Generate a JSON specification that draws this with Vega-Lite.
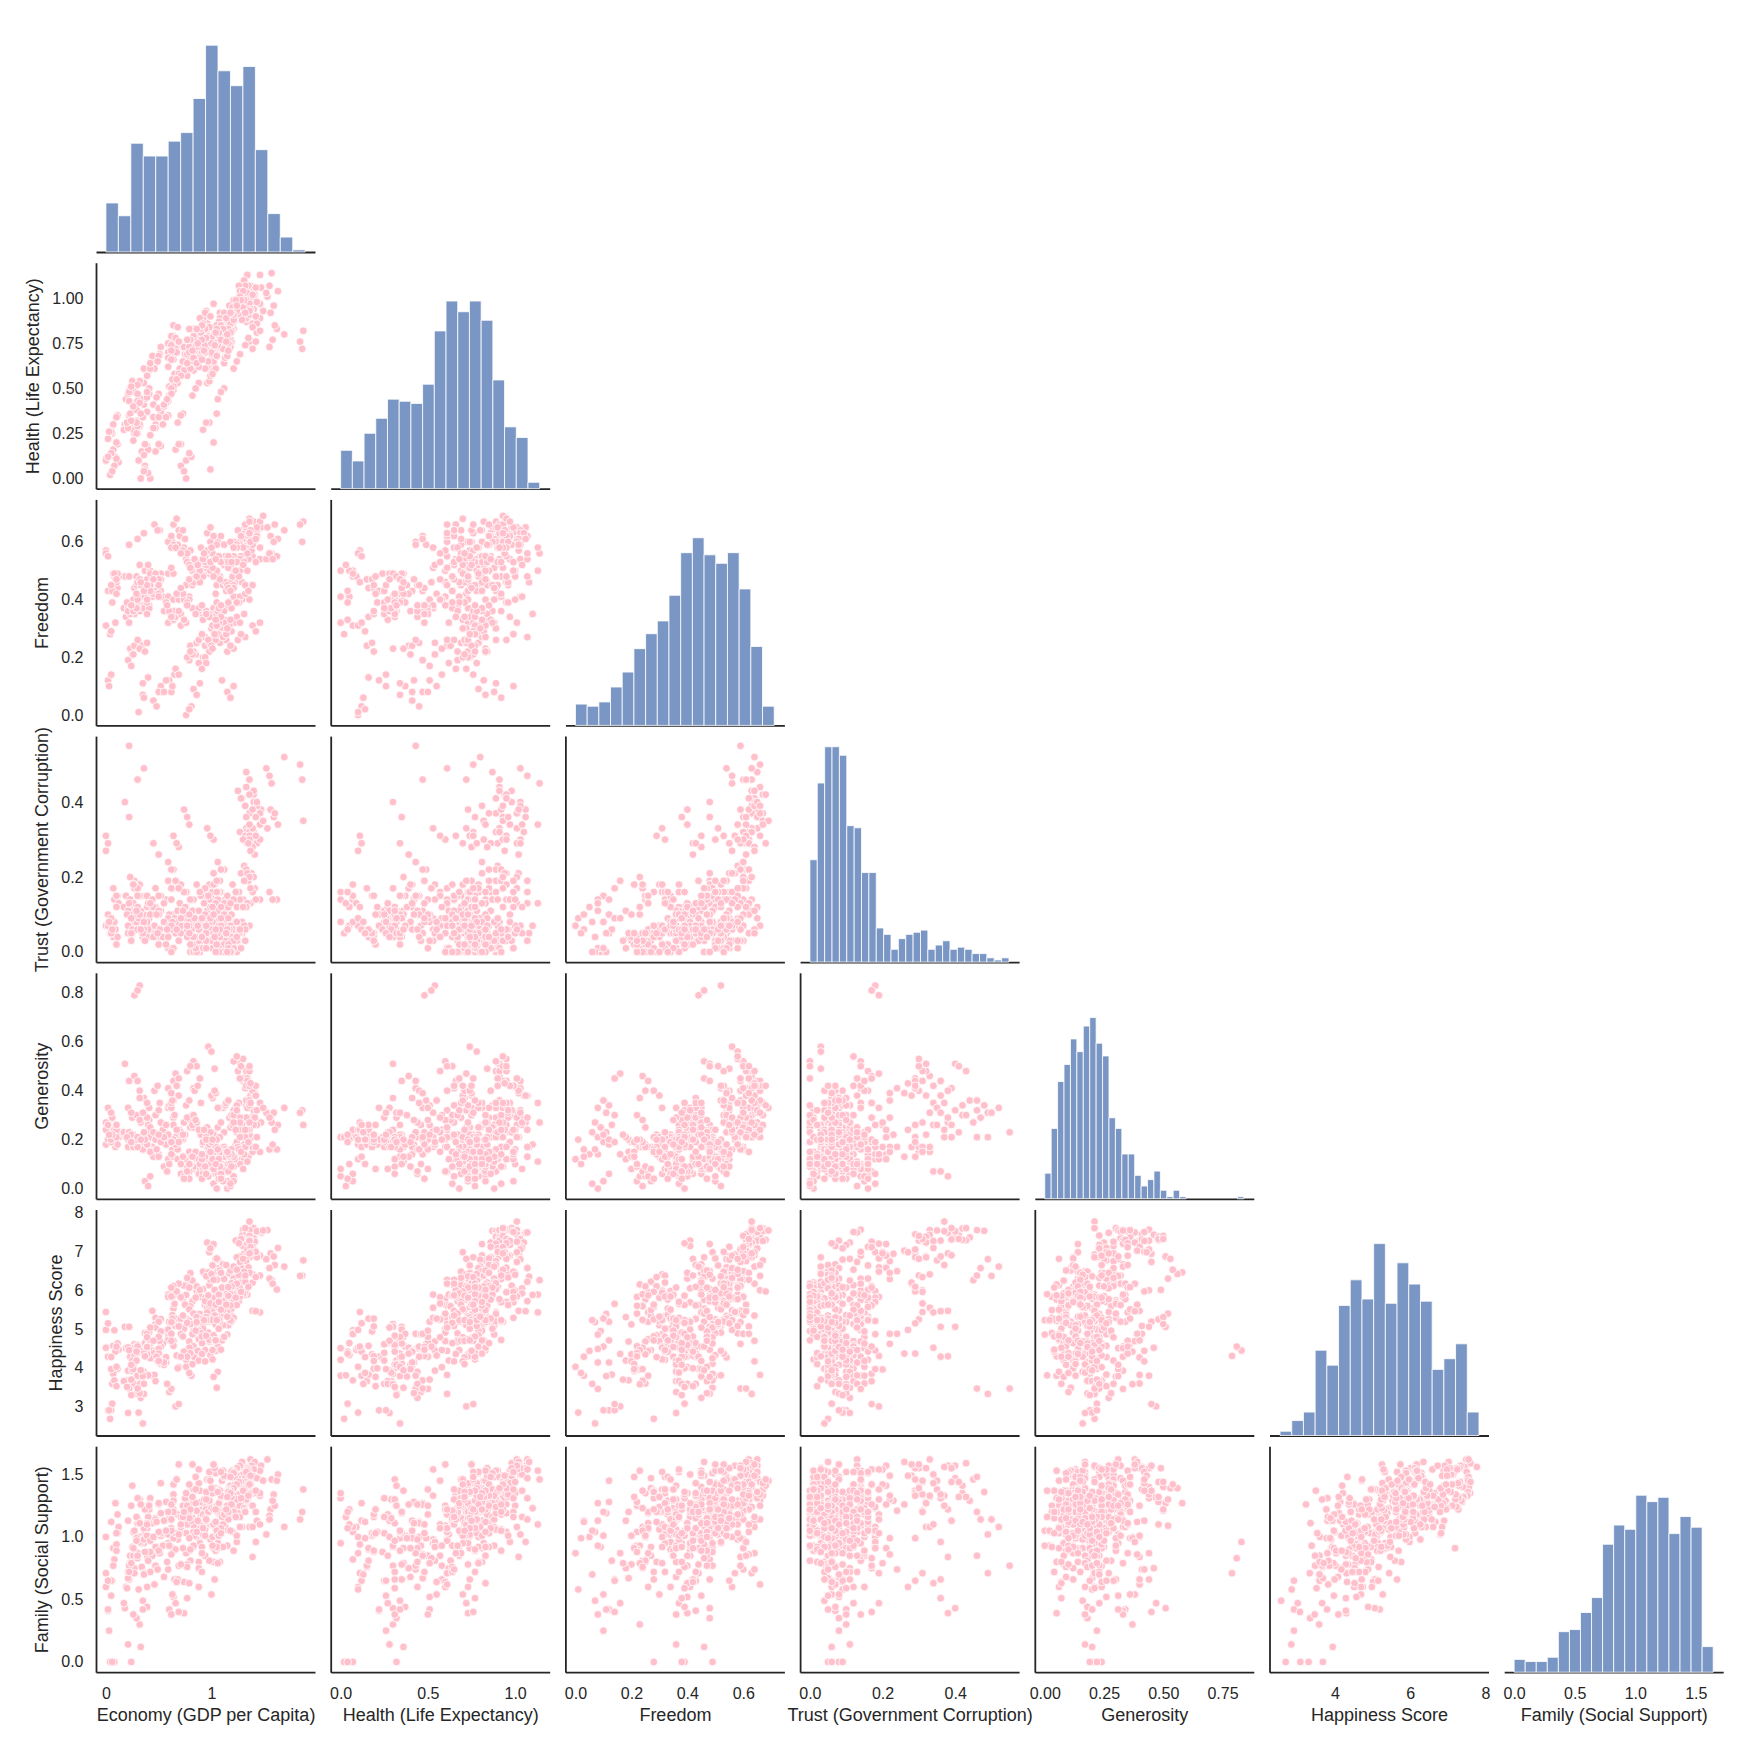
{
"$schema":"https://vega.github.io/schema/vega-lite/v6.json",
"background":"white",
"padding":{"left":24,"top":26,"right":10,"bottom":10},
"bounds":"flush",
"columns":7,
"spacing":{"row":10.7,"column":15.7},
"config":{
"view":{"stroke":null},
"font":"Liberation Sans",
"circle":{"size":60,"color":"#FFC0CB","opacity":1,"stroke":"#FFFFFF","strokeWidth":0.8},
"axis":{"labelFont":"Liberation Sans","labelFontSize":16,"labelColor":"#262626","titleFont":"Liberation Sans","titleFontSize":18,"titleFontWeight":"normal","titleColor":"#262626","domainColor":"#262626","domainWidth":1.8,"ticks":false,"grid":false,"labelPadding":13,"labelOverlap":false,"labelFlush":false,"labelBound":false},
"axisX":{"titlePadding":5},
"axisY":{"titlePadding":9}
},
"datasets":{
"pts":[
{"e":1.40,"h":0.94,"f":0.67,"t":0.42,"g":0.30,"s":7.59,"fa":1.35},{"e":1.47,"h":1.06,"f":0.65,"t":0.38,"g":0.27,"s":7.48,"fa":1.57},
{"e":1.30,"h":0.95,"f":0.63,"t":0.14,"g":0.44,"s":7.56,"fa":1.40},{"e":1.37,"h":1.07,"f":0.62,"t":0.13,"g":0.38,"s":7.49,"fa":1.62},
{"e":1.33,"h":0.87,"f":0.65,"t":0.48,"g":0.34,"s":7.53,"fa":1.36},{"e":1.40,"h":0.98,"f":0.63,"t":0.43,"g":0.30,"s":7.60,"fa":1.59},
{"e":1.46,"h":0.89,"f":0.67,"t":0.37,"g":0.35,"s":7.52,"fa":1.33},{"e":1.53,"h":1.01,"f":0.65,"t":0.33,"g":0.31,"s":7.55,"fa":1.62},
{"e":1.33,"h":0.91,"f":0.63,"t":0.33,"g":0.46,"s":7.43,"fa":1.32},{"e":1.40,"h":1.03,"f":0.62,"t":0.30,"g":0.40,"s":7.28,"fa":1.55},
{"e":1.29,"h":0.89,"f":0.64,"t":0.41,"g":0.23,"s":7.41,"fa":1.32},{"e":1.36,"h":1.01,"f":0.63,"t":0.37,"g":0.21,"s":7.77,"fa":1.56},
{"e":1.33,"h":0.89,"f":0.62,"t":0.32,"g":0.48,"s":7.38,"fa":1.28},{"e":1.40,"h":1.01,"f":0.61,"t":0.29,"g":0.41,"s":7.44,"fa":1.56},
{"e":1.33,"h":0.91,"f":0.66,"t":0.44,"g":0.36,"s":7.36,"fa":1.29},{"e":1.40,"h":1.03,"f":0.64,"t":0.40,"g":0.32,"s":7.34,"fa":1.57},
{"e":1.25,"h":0.91,"f":0.64,"t":0.43,"g":0.48,"s":7.29,"fa":1.32},{"e":1.32,"h":1.03,"f":0.63,"t":0.39,"g":0.41,"s":7.31,"fa":1.55},
{"e":1.33,"h":0.93,"f":0.65,"t":0.36,"g":0.44,"s":7.28,"fa":1.31},{"e":1.40,"h":1.05,"f":0.63,"t":0.32,"g":0.38,"s":7.23,"fa":1.55},
{"e":1.23,"h":0.91,"f":0.41,"t":0.08,"g":0.33,"s":7.28,"fa":1.22},{"e":1.30,"h":1.03,"f":0.41,"t":0.07,"g":0.29,"s":7.14,"fa":1.50},
{"e":0.96,"h":0.86,"f":0.63,"t":0.11,"g":0.25,"s":7.23,"fa":1.24},{"e":1.02,"h":0.97,"f":0.62,"t":0.10,"g":0.23,"s":7.17,"fa":1.52},
{"e":1.34,"h":0.89,"f":0.62,"t":0.19,"g":0.33,"s":7.20,"fa":1.30},{"e":1.41,"h":1.01,"f":0.61,"t":0.17,"g":0.29,"s":7.25,"fa":1.54},
{"e":1.02,"h":0.81,"f":0.48,"t":0.21,"g":0.14,"s":7.19,"fa":0.91},{"e":1.08,"h":0.92,"f":0.48,"t":0.19,"g":0.14,"s":6.49,"fa":1.18},
{"e":1.39,"h":0.86,"f":0.55,"t":0.16,"g":0.40,"s":7.12,"fa":1.25},{"e":1.46,"h":0.97,"f":0.54,"t":0.14,"g":0.35,"s":6.89,"fa":1.53},
{"e":0.98,"h":0.70,"f":0.49,"t":0.18,"g":0.14,"s":6.98,"fa":1.23},{"e":1.04,"h":0.79,"f":0.49,"t":0.16,"g":0.14,"s":6.30,"fa":1.51},
{"e":1.56,"h":0.92,"f":0.62,"t":0.38,"g":0.29,"s":6.95,"fa":1.22},{"e":1.63,"h":1.04,"f":0.61,"t":0.34,"g":0.26,"s":7.09,"fa":1.50},
{"e":1.34,"h":0.90,"f":0.62,"t":0.29,"g":0.45,"s":6.94,"fa":1.37},{"e":1.41,"h":1.02,"f":0.61,"t":0.26,"g":0.39,"s":7.02,"fa":1.60},
{"e":1.31,"h":0.90,"f":0.58,"t":0.23,"g":0.22,"s":6.94,"fa":1.29},{"e":1.38,"h":1.02,"f":0.57,"t":0.21,"g":0.21,"s":6.92,"fa":1.57},
{"e":1.43,"h":0.81,"f":0.64,"t":0.39,"g":0.26,"s":6.90,"fa":1.13},{"e":1.87,"h":0.82,"f":0.67,"t":0.35,"g":0.26,"s":6.77,"fa":1.38},
{"e":1.27,"h":0.91,"f":0.60,"t":0.32,"g":0.51,"s":6.87,"fa":1.27},{"e":1.34,"h":1.03,"f":0.59,"t":0.29,"g":0.44,"s":7.05,"fa":1.55},
{"e":1.36,"h":0.76,"f":0.63,"t":0.32,"g":0.22,"s":6.85,"fa":1.08},{"e":1.43,"h":0.86,"f":0.62,"t":0.29,"g":0.21,"s":6.85,"fa":1.35},
{"e":1.04,"h":0.72,"f":0.42,"t":0.11,"g":0.06,"s":6.81,"fa":1.25},{"e":1.10,"h":0.82,"f":0.12,"t":0.05,"g":0.06,"s":4.71,"fa":1.45},
{"e":1.52,"h":1.03,"f":0.54,"t":0.49,"g":0.31,"s":6.80,"fa":1.02},{"e":1.57,"h":1.14,"f":0.56,"t":0.45,"g":0.27,"s":6.26,"fa":1.46},
{"e":1.06,"h":0.80,"f":0.55,"t":0.09,"g":0.25,"s":6.79,"fa":1.20},{"e":1.12,"h":0.91,"f":0.54,"t":0.08,"g":0.23,"s":6.32,"fa":1.48},
{"e":1.33,"h":0.89,"f":0.61,"t":0.22,"g":0.29,"s":6.75,"fa":1.30},{"e":1.40,"h":1.01,"f":0.60,"t":0.20,"g":0.26,"s":6.98,"fa":1.54},
{"e":1.11,"h":0.85,"f":0.45,"t":0.07,"g":0.33,"s":6.67,"fa":1.12},{"e":1.17,"h":0.96,"f":0.45,"t":0.06,"g":0.29,"s":6.44,"fa":1.40},
{"e":1.69,"h":0.80,"f":0.64,"t":0.52,"g":0.33,"s":6.61,"fa":1.08},{"e":1.86,"h":0.72,"f":0.60,"t":0.46,"g":0.32,"s":6.38,"fa":1.20},
{"e":1.28,"h":0.95,"f":0.55,"t":0.21,"g":0.12,"s":6.58,"fa":1.26},{"e":1.35,"h":1.07,"f":0.54,"t":0.19,"g":0.13,"s":6.59,"fa":1.54},
{"e":1.05,"h":0.79,"f":0.45,"t":0.08,"g":0.11,"s":6.57,"fa":1.25},{"e":1.11,"h":0.90,"f":0.45,"t":0.07,"g":0.12,"s":6.09,"fa":1.53},
{"e":1.18,"h":0.84,"f":0.46,"t":0.03,"g":0.11,"s":6.51,"fa":1.21},{"e":1.24,"h":0.95,"f":0.46,"t":0.03,"g":0.12,"s":6.85,"fa":1.49},
{"e":1.06,"h":0.81,"f":0.60,"t":0.24,"g":0.17,"s":6.49,"fa":1.21},{"e":1.12,"h":0.92,"f":0.59,"t":0.22,"g":0.17,"s":6.29,"fa":1.49},
{"e":0.92,"h":0.69,"f":0.54,"t":0.05,"g":0.18,"s":6.48,"fa":1.24},{"e":0.98,"h":0.78,"f":0.53,"t":0.05,"g":0.17,"s":6.13,"fa":1.52},
{"e":0.97,"h":0.74,"f":0.56,"t":0.03,"g":0.58,"s":6.46,"fa":1.27},{"e":1.03,"h":0.84,"f":0.55,"t":0.03,"g":0.49,"s":6.01,"fa":1.55},
{"e":1.39,"h":0.72,"f":0.31,"t":0.33,"g":0.15,"s":6.41,"fa":1.08},{"e":1.46,"h":0.82,"f":0.32,"t":0.30,"g":0.15,"s":6.38,"fa":1.35},
{"e":1.23,"h":0.96,"f":0.46,"t":0.06,"g":0.18,"s":6.33,"fa":1.32},{"e":1.29,"h":1.08,"f":0.46,"t":0.05,"g":0.17,"s":6.35,"fa":1.60},
{"e":1.21,"h":0.89,"f":0.60,"t":0.14,"g":0.52,"s":6.30,"fa":1.30},{"e":1.27,"h":1.01,"f":0.59,"t":0.13,"g":0.45,"s":6.73,"fa":1.57},
{"e":1.29,"h":0.88,"f":0.40,"t":0.08,"g":0.26,"s":6.30,"fa":1.08},{"e":1.36,"h":1.00,"f":0.40,"t":0.07,"g":0.24,"s":6.45,"fa":1.35},
{"e":1.55,"h":0.73,"f":0.56,"t":0.16,"g":0.16,"s":6.30,"fa":1.17},{"e":1.62,"h":0.83,"f":0.55,"t":0.14,"g":0.16,"s":6.02,"fa":1.45},
{"e":0.99,"h":0.61,"f":0.60,"t":0.07,"g":0.17,"s":6.27,"fa":0.98},{"e":1.05,"h":0.69,"f":0.59,"t":0.06,"g":0.17,"s":6.27,"fa":1.25},
{"e":1.21,"h":0.61,"f":0.55,"t":0.01,"g":0.32,"s":6.17,"fa":1.18},{"e":1.27,"h":0.69,"f":0.54,"t":0.01,"g":0.29,"s":6.19,"fa":1.46},
{"e":0.76,"h":0.69,"f":0.45,"t":0.12,"g":0.06,"s":6.13,"fa":1.03},{"e":0.82,"h":0.78,"f":0.45,"t":0.11,"g":0.08,"s":6.25,"fa":1.30},
{"e":0.74,"h":0.65,"f":0.58,"t":0.08,"g":0.27,"s":6.12,"fa":1.13},{"e":0.80,"h":0.74,"f":0.57,"t":0.07,"g":0.25,"s":6.44,"fa":1.41},
{"e":0.64,"h":0.66,"f":0.66,"t":0.31,"g":0.44,"s":6.00,"fa":1.34},{"e":0.69,"h":0.75,"f":0.64,"t":0.28,"g":0.38,"s":6.17,"fa":1.58},
{"e":1.16,"h":0.78,"f":0.31,"t":0.01,"g":0.12,"s":5.99,"fa":1.20},{"e":1.22,"h":0.88,"f":0.32,"t":0.01,"g":0.13,"s":6.20,"fa":1.48},
{"e":1.27,"h":1.00,"f":0.50,"t":0.14,"g":0.10,"s":5.99,"fa":1.25},{"e":1.34,"h":1.13,"f":0.50,"t":0.13,"g":0.11,"s":5.89,"fa":1.53},
{"e":1.24,"h":0.97,"f":0.34,"t":0.08,"g":0.19,"s":5.98,"fa":0.96},{"e":1.31,"h":1.10,"f":0.35,"t":0.07,"g":0.18,"s":5.88,"fa":1.23},
{"e":0.86,"h":0.79,"f":0.48,"t":0.18,"g":0.12,"s":5.98,"fa":1.00},{"e":0.92,"h":0.89,"f":0.48,"t":0.16,"g":0.13,"s":6.03,"fa":1.27},
{"e":1.32,"h":0.74,"f":0.45,"t":0.31,"g":0.17,"s":5.96,"fa":1.21},{"e":1.39,"h":0.84,"f":0.45,"t":0.28,"g":0.17,"s":6.20,"fa":1.49},
{"e":1.25,"h":0.95,"f":0.26,"t":0.03,"g":0.17,"s":5.95,"fa":1.19},{"e":1.32,"h":1.07,"f":0.27,"t":0.03,"g":0.17,"s":6.22,"fa":1.47},
{"e":0.68,"h":0.53,"f":0.58,"t":0.09,"g":0.21,"s":5.89,"fa":0.98},{"e":0.73,"h":0.60,"f":0.57,"t":0.08,"g":0.20,"s":5.78,"fa":1.25},
{"e":0.59,"h":0.62,"f":0.32,"t":0.01,"g":0.21,"s":5.89,"fa":1.02},{"e":0.64,"h":0.70,"f":0.33,"t":0.01,"g":0.20,"s":5.53,"fa":1.29},
{"e":0.76,"h":0.66,"f":0.54,"t":0.09,"g":0.34,"s":5.88,"fa":1.30},{"e":0.82,"h":0.75,"f":0.53,"t":0.08,"g":0.30,"s":5.74,"fa":1.58},
{"e":1.12,"h":0.64,"f":0.52,"t":0.08,"g":0.12,"s":5.86,"fa":1.13},{"e":1.18,"h":0.73,"f":0.51,"t":0.07,"g":0.13,"s":5.81,"fa":1.41},
{"e":1.18,"h":0.87,"f":0.60,"t":0.03,"g":0.25,"s":5.85,"fa":1.27},{"e":1.24,"h":0.98,"f":0.59,"t":0.03,"g":0.23,"s":6.12,"fa":1.55},
{"e":1.15,"h":0.73,"f":0.22,"t":0.01,"g":0.03,"s":5.83,"fa":1.25},{"e":1.21,"h":0.83,"f":0.23,"t":0.01,"g":0.05,"s":6.15,"fa":1.53},
{"e":0.59,"h":0.75,"f":0.60,"t":0.19,"g":0.33,"s":5.83,"fa":1.14},{"e":0.64,"h":0.85,"f":0.59,"t":0.17,"g":0.29,"s":6.11,"fa":1.42},
{"e":0.91,"h":0.73,"f":0.51,"t":0.03,"g":0.09,"s":5.82,"fa":1.02},{"e":0.97,"h":0.83,"f":0.50,"t":0.03,"g":0.10,"s":5.70,"fa":1.29},
{"e":1.03,"h":0.70,"f":0.30,"t":0.18,"g":0.14,"s":5.81,"fa":1.24},{"e":1.09,"h":0.79,"f":0.31,"t":0.16,"g":0.14,"s":5.32,"fa":1.52},
{"e":1.13,"h":0.79,"f":0.53,"t":0.04,"g":0.16,"s":5.79,"fa":1.25},{"e":1.19,"h":0.89,"f":0.52,"t":0.04,"g":0.16,"s":6.18,"fa":1.53},
{"e":1.13,"h":0.73,"f":0.55,"t":0.11,"g":0.34,"s":5.77,"fa":1.08},{"e":1.19,"h":0.83,"f":0.54,"t":0.10,"g":0.30,"s":5.34,"fa":1.35},
{"e":1.08,"h":0.79,"f":0.25,"t":0.02,"g":0.05,"s":5.76,"fa":0.80},{"e":1.14,"h":0.89,"f":0.26,"t":0.02,"g":0.07,"s":5.43,"fa":1.06},
{"e":1.13,"h":0.71,"f":0.46,"t":0.14,"g":0.08,"s":5.75,"fa":1.08},{"e":1.19,"h":0.81,"f":0.46,"t":0.13,"g":0.09,"s":5.53,"fa":1.35},
{"e":1.13,"h":0.67,"f":0.37,"t":0.03,"g":0.09,"s":5.72,"fa":1.24},{"e":1.19,"h":0.76,"f":0.37,"t":0.03,"g":0.10,"s":5.65,"fa":1.52},
{"e":0.82,"h":0.69,"f":0.50,"t":0.02,"g":0.13,"s":5.71,"fa":1.15},{"e":0.88,"h":0.78,"f":0.50,"t":0.02,"g":0.13,"s":5.89,"fa":1.43},
{"e":1.20,"h":0.95,"f":0.48,"t":0.18,"g":0.26,"s":5.70,"fa":1.04},{"e":1.26,"h":1.07,"f":0.48,"t":0.16,"g":0.24,"s":5.72,"fa":1.31},
{"e":1.21,"h":0.92,"f":0.41,"t":0.06,"g":0.30,"s":5.69,"fa":0.89},{"e":1.27,"h":1.04,"f":0.41,"t":0.05,"g":0.27,"s":6.05,"fa":1.16},
{"e":0.94,"h":0.61,"f":0.24,"t":0.17,"g":0.07,"s":5.61,"fa":1.08},{"e":1.00,"h":0.69,"f":0.25,"t":0.15,"g":0.09,"s":5.21,"fa":1.35},
{"e":0.80,"h":0.63,"f":0.24,"t":0.00,"g":0.28,"s":5.59,"fa":0.81},{"e":0.86,"h":0.72,"f":0.25,"t":0.00,"g":0.25,"s":6.10,"fa":1.07},
{"e":0.96,"h":0.53,"f":0.51,"t":0.33,"g":0.17,"s":5.55,"fa":1.33},{"e":1.02,"h":0.60,"f":0.50,"t":0.30,"g":0.17,"s":5.25,"fa":1.58},
{"e":1.01,"h":0.71,"f":0.56,"t":0.08,"g":0.37,"s":5.48,"fa":1.00},{"e":1.07,"h":0.81,"f":0.55,"t":0.07,"g":0.33,"s":5.89,"fa":1.27},
{"e":1.39,"h":1.02,"f":0.59,"t":0.38,"g":0.40,"s":5.47,"fa":0.84},{"e":1.46,"h":1.13,"f":0.58,"t":0.34,"g":0.35,"s":5.43,"fa":1.10},
{"e":1.15,"h":0.77,"f":0.45,"t":0.15,"g":0.08,"s":5.43,"fa":1.23},{"e":1.21,"h":0.87,"f":0.45,"t":0.14,"g":0.09,"s":5.89,"fa":1.51},
{"e":0.83,"h":0.60,"f":0.46,"t":0.00,"g":0.52,"s":5.40,"fa":1.09},{"e":0.89,"h":0.68,"f":0.46,"t":0.00,"g":0.45,"s":5.19,"fa":1.37},
{"e":0.63,"h":0.74,"f":0.60,"t":0.10,"g":0.16,"s":5.36,"fa":0.91},{"e":0.68,"h":0.84,"f":0.59,"t":0.09,"g":0.16,"s":5.18,"fa":1.18},
{"e":1.06,"h":0.73,"f":0.32,"t":0.14,"g":0.08,"s":5.33,"fa":0.95},{"e":1.12,"h":0.83,"f":0.33,"t":0.13,"g":0.09,"s":5.37,"fa":1.22},
{"e":0.47,"h":0.64,"f":0.43,"t":0.04,"g":0.30,"s":5.29,"fa":1.15},{"e":0.52,"h":0.73,"f":0.43,"t":0.04,"g":0.27,"s":5.26,"fa":1.43},
{"e":0.66,"h":0.16,"f":0.34,"t":0.05,"g":0.21,"s":5.27,"fa":0.90},{"e":0.71,"h":0.19,"f":0.35,"t":0.05,"g":0.20,"s":5.27,"fa":1.16},
{"e":0.77,"h":0.57,"f":0.53,"t":0.16,"g":0.48,"s":5.25,"fa":1.10},{"e":0.83,"h":0.65,"f":0.52,"t":0.14,"g":0.41,"s":5.08,"fa":1.38},
{"e":1.02,"h":0.64,"f":0.37,"t":0.18,"g":0.02,"s":5.21,"fa":0.93},{"e":1.08,"h":0.73,"f":0.37,"t":0.16,"g":0.05,"s":5.21,"fa":1.20},
{"e":0.60,"h":0.51,"f":0.12,"t":0.10,"g":0.34,"s":5.19,"fa":0.42},{"e":0.65,"h":0.58,"f":0.14,"t":0.09,"g":0.30,"s":5.65,"fa":0.66},
{"e":0.91,"h":0.70,"f":0.53,"t":0.09,"g":0.11,"s":5.19,"fa":1.03},{"e":0.97,"h":0.79,"f":0.52,"t":0.08,"g":0.12,"s":4.91,"fa":1.30},
{"e":0.97,"h":0.71,"f":0.26,"t":0.05,"g":0.17,"s":5.19,"fa":1.11},{"e":1.03,"h":0.81,"f":0.27,"t":0.05,"g":0.17,"s":5.35,"fa":1.39},
{"e":0.89,"h":0.82,"f":0.52,"t":0.03,"g":0.08,"s":5.14,"fa":0.95},{"e":0.95,"h":0.93,"f":0.51,"t":0.03,"g":0.09,"s":5.19,"fa":1.22},
{"e":0.47,"h":0.30,"f":0.49,"t":0.12,"g":0.20,"s":5.13,"fa":0.92},{"e":0.52,"h":0.35,"f":0.49,"t":0.11,"g":0.19,"s":4.11,"fa":1.19},
{"e":1.04,"h":0.77,"f":0.35,"t":0.01,"g":0.14,"s":5.12,"fa":0.89},{"e":1.10,"h":0.87,"f":0.36,"t":0.01,"g":0.14,"s":6.07,"fa":1.16},
{"e":0.92,"h":0.74,"f":0.20,"t":0.03,"g":0.19,"s":5.12,"fa":1.01},{"e":0.98,"h":0.84,"f":0.22,"t":0.03,"g":0.18,"s":5.60,"fa":1.28},
{"e":1.16,"h":0.88,"f":0.51,"t":0.01,"g":0.11,"s":5.10,"fa":1.14},{"e":1.22,"h":0.99,"f":0.50,"t":0.01,"g":0.12,"s":5.69,"fa":1.42},
{"e":1.11,"h":0.72,"f":0.30,"t":0.07,"g":0.13,"s":5.10,"fa":1.10},{"e":1.17,"h":0.82,"f":0.31,"t":0.06,"g":0.13,"s":5.94,"fa":1.38},
{"e":0.70,"h":0.61,"f":0.62,"t":0.13,"g":0.24,"s":5.07,"fa":1.04},{"e":0.75,"h":0.69,"f":0.61,"t":0.12,"g":0.22,"s":5.63,"fa":1.31},
{"e":0.18,"h":0.30,"f":0.48,"t":0.40,"g":0.51,"s":5.06,"fa":0.43},{"e":0.22,"h":0.35,"f":0.48,"t":0.36,"g":0.44,"s":5.06,"fa":0.66},
{"e":0.74,"h":0.60,"f":0.41,"t":0.09,"g":0.07,"s":5.01,"fa":0.64},{"e":0.79,"h":0.68,"f":0.41,"t":0.08,"g":0.09,"s":5.21,"fa":0.89},
{"e":0.92,"h":0.74,"f":0.34,"t":0.05,"g":0.22,"s":5.01,"fa":1.02},{"e":0.98,"h":0.84,"f":0.35,"t":0.05,"g":0.21,"s":5.27,"fa":1.29},
{"e":0.08,"h":0.07,"f":0.48,"t":0.14,"g":0.22,"s":4.97,"fa":0.82},{"e":0.12,"h":0.09,"f":0.48,"t":0.13,"g":0.21,"s":4.47,"fa":1.08},
{"e":0.88,"h":0.81,"f":0.36,"t":0.06,"g":0.14,"s":4.96,"fa":0.80},{"e":0.94,"h":0.92,"f":0.36,"t":0.05,"g":0.14,"s":4.72,"fa":1.06},
{"e":0.83,"h":0.79,"f":0.09,"t":0.00,"g":0.25,"s":4.95,"fa":0.92},{"e":0.89,"h":0.89,"f":0.11,"t":0.00,"g":0.23,"s":5.39,"fa":1.19},
{"e":0.37,"h":0.07,"f":0.50,"t":0.15,"g":0.03,"s":4.90,"fa":1.04},{"e":0.42,"h":0.00,"f":0.50,"t":0.14,"g":0.05,"s":3.80,"fa":1.31},
{"e":0.90,"h":0.67,"f":0.58,"t":0.15,"g":0.22,"s":4.89,"fa":1.18},{"e":0.96,"h":0.76,"f":0.57,"t":0.14,"g":0.21,"s":5.43,"fa":1.46},
{"e":0.59,"h":0.43,"f":0.60,"t":0.24,"g":0.41,"s":4.88,"fa":0.74},{"e":0.64,"h":0.49,"f":0.59,"t":0.22,"g":0.36,"s":4.62,"fa":0.99},
{"e":0.82,"h":0.46,"f":0.37,"t":0.03,"g":0.26,"s":4.87,"fa":1.26},{"e":0.88,"h":0.53,"f":0.37,"t":0.03,"g":0.24,"s":5.29,"fa":1.54},
{"e":0.71,"h":0.07,"f":0.31,"t":0.18,"g":0.06,"s":4.87,"fa":1.08},{"e":0.76,"h":0.00,"f":0.32,"t":0.16,"g":0.08,"s":4.21,"fa":1.35},
{"e":1.15,"h":0.88,"f":0.08,"t":0.01,"g":0.00,"s":4.86,"fa":0.93},{"e":1.21,"h":0.99,"f":0.10,"t":0.01,"g":0.03,"s":5.29,"fa":1.20},
{"e":1.02,"h":0.79,"f":0.29,"t":0.04,"g":0.22,"s":4.84,"fa":0.80},{"e":1.08,"h":0.89,"f":0.30,"t":0.04,"g":0.21,"s":5.20,"fa":1.06},
{"e":1.12,"h":0.76,"f":0.32,"t":0.02,"g":0.13,"s":4.80,"fa":1.20},{"e":1.18,"h":0.86,"f":0.33,"t":0.02,"g":0.13,"s":5.76,"fa":1.48},
{"e":0.59,"h":0.70,"f":0.49,"t":0.08,"g":0.21,"s":4.79,"fa":0.95},{"e":0.64,"h":0.79,"f":0.49,"t":0.07,"g":0.20,"s":5.86,"fa":1.22},
{"e":0.39,"h":0.57,"f":0.47,"t":0.15,"g":0.23,"s":4.79,"fa":0.85},{"e":0.44,"h":0.65,"f":0.47,"t":0.14,"g":0.21,"s":5.47,"fa":1.11},
{"e":0.88,"h":0.73,"f":0.26,"t":0.06,"g":0.06,"s":4.74,"fa":0.60},{"e":0.94,"h":0.83,"f":0.27,"t":0.05,"g":0.08,"s":4.46,"fa":0.85},
{"e":0.59,"h":0.67,"f":0.36,"t":0.09,"g":0.12,"s":4.72,"fa":0.93},{"e":0.64,"h":0.76,"f":0.36,"t":0.08,"g":0.13,"s":4.70,"fa":1.20},
{"e":0.39,"h":0.60,"f":0.41,"t":0.12,"g":0.17,"s":4.69,"fa":0.60},{"e":0.44,"h":0.68,"f":0.41,"t":0.11,"g":0.17,"s":4.46,"fa":0.85},
{"e":1.00,"h":0.70,"f":0.30,"t":0.06,"g":0.38,"s":4.69,"fa":0.54},{"e":1.06,"h":0.79,"f":0.31,"t":0.05,"g":0.33,"s":4.55,"fa":0.79},
{"e":0.79,"h":0.67,"f":0.19,"t":0.04,"g":0.15,"s":4.68,"fa":1.20},{"e":0.85,"h":0.76,"f":0.21,"t":0.04,"g":0.15,"s":4.33,"fa":1.48},
{"e":0.98,"h":0.54,"f":0.25,"t":0.14,"g":0.18,"s":4.68,"fa":0.81},{"e":1.04,"h":0.61,"f":0.26,"t":0.13,"g":0.17,"s":4.44,"fa":1.07},
{"e":0.92,"h":0.27,"f":0.33,"t":0.09,"g":0.08,"s":4.64,"fa":1.18},{"e":0.98,"h":0.31,"f":0.34,"t":0.08,"g":0.09,"s":4.72,"fa":1.46},
{"e":0.54,"h":0.30,"f":0.41,"t":0.04,"g":0.24,"s":4.63,"fa":0.93},{"e":0.59,"h":0.35,"f":0.41,"t":0.04,"g":0.22,"s":4.99,"fa":1.20},
{"e":0.27,"h":0.25,"f":0.35,"t":0.08,"g":0.19,"s":4.61,"fa":1.03},{"e":0.32,"h":0.29,"f":0.36,"t":0.07,"g":0.18,"s":3.66,"fa":1.30},
{"e":0.07,"h":0.16,"f":0.44,"t":0.04,"g":0.24,"s":4.57,"fa":0.91},{"e":0.11,"h":0.19,"f":0.44,"t":0.04,"g":0.22,"s":3.98,"fa":1.18},
{"e":0.64,"h":0.51,"f":0.40,"t":0.08,"g":0.26,"s":4.57,"fa":0.52},{"e":0.69,"h":0.58,"f":0.40,"t":0.07,"g":0.24,"s":4.02,"fa":0.77},
{"e":0.52,"h":0.37,"f":0.10,"t":0.15,"g":0.19,"s":4.55,"fa":1.01},{"e":0.57,"h":0.42,"f":0.12,"t":0.14,"g":0.18,"s":4.14,"fa":1.28},
{"e":0.27,"h":0.39,"f":0.24,"t":0.17,"g":0.46,"s":4.52,"fa":0.75},{"e":0.32,"h":0.45,"f":0.25,"t":0.15,"g":0.40,"s":3.60,"fa":1.00},
{"e":0.00,"h":0.10,"f":0.31,"t":0.07,"g":0.18,"s":4.52,"fa":1.00},{"e":0.09,"h":0.12,"f":0.32,"t":0.06,"g":0.17,"s":4.42,"fa":1.27},
{"e":0.36,"h":0.53,"f":0.38,"t":0.06,"g":0.31,"s":4.51,"fa":0.95},{"e":0.41,"h":0.60,"f":0.38,"t":0.05,"g":0.28,"s":4.91,"fa":1.22},
{"e":0.19,"h":0.44,"f":0.34,"t":0.15,"g":0.21,"s":4.51,"fa":0.60},{"e":0.23,"h":0.50,"f":0.35,"t":0.14,"g":0.20,"s":4.29,"fa":0.85},
{"e":0.33,"h":0.00,"f":0.41,"t":0.08,"g":0.21,"s":4.51,"fa":0.95},{"e":0.37,"h":0.05,"f":0.41,"t":0.07,"g":0.20,"s":4.64,"fa":1.22},
{"e":0.45,"h":0.41,"f":0.05,"t":0.12,"g":0.14,"s":4.44,"fa":1.00},{"e":0.50,"h":0.47,"f":0.08,"t":0.11,"g":0.14,"s":4.49,"fa":1.27},
{"e":0.36,"h":0.41,"f":0.43,"t":0.06,"g":0.37,"s":4.42,"fa":0.99},{"e":0.41,"h":0.47,"f":0.43,"t":0.05,"g":0.33,"s":4.51,"fa":1.26},
{"e":0.45,"h":0.34,"f":0.42,"t":0.29,"g":0.13,"s":4.37,"fa":0.99},{"e":0.50,"h":0.39,"f":0.42,"t":0.26,"g":0.13,"s":4.37,"fa":1.26},
{"e":0.77,"h":0.73,"f":0.20,"t":0.04,"g":0.08,"s":4.35,"fa":0.78},{"e":0.83,"h":0.83,"f":0.22,"t":0.04,"g":0.09,"s":4.56,"fa":1.04},
{"e":0.99,"h":0.05,"f":0.50,"t":0.12,"g":0.10,"s":4.33,"fa":1.10},{"e":1.05,"h":0.36,"f":0.49,"t":0.11,"g":0.11,"s":3.49,"fa":1.37},
{"e":0.27,"h":0.48,"f":0.44,"t":0.19,"g":0.79,"s":4.31,"fa":0.71},{"e":0.32,"h":0.54,"f":0.52,"t":0.18,"g":0.83,"s":4.45,"fa":0.96},
{"e":0.74,"h":0.73,"f":0.40,"t":0.38,"g":0.05,"s":4.30,"fa":0.39},{"e":0.79,"h":0.83,"f":0.40,"t":0.34,"g":0.07,"s":4.52,"fa":0.63},
{"e":0.02,"h":0.22,"f":0.43,"t":0.07,"g":0.33,"s":4.29,"fa":0.41},{"e":0.06,"h":0.25,"f":0.43,"t":0.06,"g":0.29,"s":3.59,"fa":0.65},
{"e":0.84,"h":0.71,"f":0.54,"t":0.09,"g":0.40,"s":4.27,"fa":1.01},{"e":0.90,"h":0.81,"f":0.53,"t":0.08,"g":0.35,"s":4.37,"fa":1.28},
{"e":0.42,"h":0.24,"f":0.49,"t":0.06,"g":0.21,"s":4.25,"fa":0.88},{"e":0.47,"h":0.28,"f":0.49,"t":0.05,"g":0.20,"s":5.04,"fa":1.14},
{"e":1.01,"h":0.77,"f":0.31,"t":0.01,"g":0.12,"s":4.22,"fa":1.10},{"e":1.07,"h":0.87,"f":0.32,"t":0.01,"g":0.13,"s":5.01,"fa":1.38},
{"e":0.88,"h":0.62,"f":0.18,"t":0.11,"g":0.12,"s":4.19,"fa":0.75},{"e":0.94,"h":0.70,"f":0.20,"t":0.10,"g":0.13,"s":4.17,"fa":1.01},
{"e":0.55,"h":0.40,"f":0.36,"t":0.08,"g":0.09,"s":4.08,"fa":0.68},{"e":0.60,"h":0.46,"f":0.36,"t":0.07,"g":0.10,"s":3.38,"fa":0.93},
{"e":0.76,"h":0.10,"f":0.00,"t":0.07,"g":0.12,"s":4.03,"fa":0.87},{"e":0.81,"h":0.12,"f":0.03,"t":0.06,"g":0.13,"s":3.80,"fa":1.13},
{"e":0.26,"h":0.21,"f":0.39,"t":0.12,"g":0.18,"s":3.99,"fa":1.04},{"e":0.30,"h":0.25,"f":0.39,"t":0.11,"g":0.17,"s":4.39,"fa":1.31},
{"e":0.68,"h":0.31,"f":0.42,"t":0.11,"g":0.12,"s":3.99,"fa":0.66},{"e":0.73,"h":0.36,"f":0.42,"t":0.10,"g":0.13,"s":4.81,"fa":0.91},
{"e":0.23,"h":0.36,"f":0.23,"t":0.20,"g":0.17,"s":3.96,"fa":0.79},{"e":0.27,"h":0.41,"f":0.24,"t":0.18,"g":0.17,"s":3.97,"fa":1.05},
{"e":0.21,"h":0.28,"f":0.36,"t":0.07,"g":0.33,"s":3.93,"fa":1.13},{"e":0.25,"h":0.32,"f":0.36,"t":0.06,"g":0.29,"s":4.19,"fa":1.41},
{"e":0.36,"h":0.44,"f":0.37,"t":0.10,"g":0.16,"s":3.90,"fa":0.98},{"e":0.41,"h":0.50,"f":0.37,"t":0.09,"g":0.16,"s":4.68,"fa":1.25},
{"e":1.06,"h":0.44,"f":0.36,"t":0.11,"g":0.06,"s":3.90,"fa":0.91},{"e":1.12,"h":0.50,"f":0.36,"t":0.10,"g":0.08,"s":4.80,"fa":1.18},
{"e":0.07,"h":0.30,"f":0.49,"t":0.17,"g":0.19,"s":3.85,"fa":0.77},{"e":0.11,"h":0.35,"f":0.49,"t":0.15,"g":0.18,"s":4.63,"fa":1.03},
{"e":0.46,"h":0.61,"f":0.66,"t":0.07,"g":0.40,"s":3.82,"fa":0.62},{"e":0.51,"h":0.69,"f":0.64,"t":0.06,"g":0.35,"s":4.70,"fa":0.87},
{"e":0.29,"h":0.38,"f":0.45,"t":0.12,"g":0.30,"s":3.78,"fa":0.99},{"e":0.33,"h":0.44,"f":0.45,"t":0.11,"g":0.27,"s":3.23,"fa":1.26},
{"e":0.21,"h":0.47,"f":0.19,"t":0.05,"g":0.20,"s":3.68,"fa":0.67},{"e":0.25,"h":0.54,"f":0.21,"t":0.05,"g":0.19,"s":3.93,"fa":0.92},
{"e":0.08,"h":0.07,"f":0.49,"t":0.08,"g":0.24,"s":3.68,"fa":0.00},{"e":0.04,"h":0.02,"f":0.28,"t":0.05,"g":0.21,"s":2.69,"fa":0.00},
{"e":0.34,"h":0.15,"f":0.24,"t":0.05,"g":0.18,"s":3.67,"fa":0.76},{"e":0.39,"h":0.18,"f":0.25,"t":0.05,"g":0.17,"s":4.35,"fa":1.01},
{"e":0.17,"h":0.27,"f":0.37,"t":0.12,"g":0.23,"s":3.66,"fa":0.47},{"e":0.21,"h":0.31,"f":0.37,"t":0.11,"g":0.21,"s":4.53,"fa":0.72},
{"e":0.47,"h":0.15,"f":0.47,"t":0.17,"g":0.20,"s":3.66,"fa":0.77},{"e":0.52,"h":0.18,"f":0.47,"t":0.15,"g":0.19,"s":4.94,"fa":1.03},
{"e":0.26,"h":0.27,"f":0.40,"t":0.13,"g":0.22,"s":3.59,"fa":0.85},{"e":0.30,"h":0.31,"f":0.40,"t":0.12,"g":0.21,"s":4.59,"fa":1.11},
{"e":0.32,"h":0.30,"f":0.23,"t":0.10,"g":0.37,"s":3.58,"fa":0.30},{"e":0.35,"h":0.34,"f":0.07,"t":0.04,"g":0.16,"s":2.57,"fa":0.49},
{"e":0.22,"h":0.43,"f":0.59,"t":0.55,"g":0.23,"s":3.47,"fa":0.77},{"e":0.36,"h":0.61,"f":0.63,"t":0.49,"g":0.21,"s":3.33,"fa":0.71},
{"e":0.29,"h":0.32,"f":0.48,"t":0.08,"g":0.18,"s":3.34,"fa":0.35},{"e":0.39,"h":0.37,"f":0.39,"t":0.07,"g":0.18,"s":4.88,"fa":0.44},
{"e":0.66,"h":0.72,"f":0.16,"t":0.19,"g":0.47,"s":3.01,"fa":0.47},{"e":0.62,"h":0.50,"f":0.08,"t":0.14,"g":0.33,"s":3.46,"fa":0.38},
{"e":0.02,"h":0.22,"f":0.12,"t":0.10,"g":0.20,"s":2.91,"fa":0.42},{"e":0.05,"h":0.26,"f":0.14,"t":0.09,"g":0.19,"s":2.91,"fa":0.65},
{"e":0.21,"h":0.28,"f":0.36,"t":0.11,"g":0.17,"s":2.84,"fa":0.14},{"e":0.26,"h":0.31,"f":0.36,"t":0.10,"g":0.17,"s":4.09,"fa":0.38},
{"e":0.00,"h":0.11,"f":0.57,"t":0.31,"g":0.27,"s":5.44,"fa":0.71},{"e":0.00,"h":0.10,"f":0.56,"t":0.27,"g":0.24,"s":4.98,"fa":0.60},
{"e":0.40,"h":0.16,"f":0.13,"t":0.06,"g":0.26,"s":3.83,"fa":0.81},{"e":0.31,"h":0.10,"f":0.01,"t":0.09,"g":0.20,"s":2.85,"fa":0.58},
{"e":1.43,"h":0.98,"f":0.65,"t":0.40,"g":0.32,"s":7.52,"fa":1.47},{"e":1.33,"h":0.99,"f":0.65,"t":0.12,"g":0.42,"s":7.50,"fa":1.52},
{"e":1.36,"h":0.91,"f":0.63,"t":0.46,"g":0.36,"s":7.55,"fa":1.48},{"e":1.49,"h":0.93,"f":0.69,"t":0.35,"g":0.33,"s":7.54,"fa":1.45},
{"e":1.36,"h":0.95,"f":0.61,"t":0.31,"g":0.48,"s":7.32,"fa":1.44},{"e":1.32,"h":0.93,"f":0.66,"t":0.39,"g":0.21,"s":7.60,"fa":1.44},
{"e":1.36,"h":0.93,"f":0.60,"t":0.30,"g":0.50,"s":7.40,"fa":1.40},{"e":1.36,"h":0.95,"f":0.68,"t":0.42,"g":0.34,"s":7.30,"fa":1.41},
{"e":1.28,"h":0.95,"f":0.62,"t":0.41,"g":0.50,"s":7.32,"fa":1.44},{"e":1.36,"h":0.97,"f":0.67,"t":0.34,"g":0.42,"s":7.27,"fa":1.43},
{"e":1.26,"h":0.95,"f":0.39,"t":0.06,"g":0.35,"s":7.21,"fa":1.34},{"e":0.99,"h":0.90,"f":0.65,"t":0.09,"g":0.23,"s":7.08,"fa":1.36},
{"e":1.37,"h":0.93,"f":0.60,"t":0.17,"g":0.35,"s":7.11,"fa":1.42},{"e":1.05,"h":0.85,"f":0.50,"t":0.19,"g":0.12,"s":6.82,"fa":1.03},
{"e":1.42,"h":0.90,"f":0.53,"t":0.14,"g":0.42,"s":6.99,"fa":1.37},{"e":1.01,"h":0.74,"f":0.51,"t":0.16,"g":0.12,"s":6.64,"fa":1.35},
{"e":1.59,"h":0.96,"f":0.60,"t":0.36,"g":0.31,"s":6.87,"fa":1.34},{"e":1.37,"h":0.94,"f":0.64,"t":0.27,"g":0.43,"s":6.98,"fa":1.49},
{"e":1.34,"h":0.94,"f":0.56,"t":0.21,"g":0.24,"s":6.89,"fa":1.41},{"e":1.60,"h":0.85,"f":0.66,"t":0.37,"g":0.24,"s":6.65,"fa":1.25},
{"e":1.30,"h":0.95,"f":0.58,"t":0.30,"g":0.53,"s":6.81,"fa":1.39},{"e":1.07,"h":0.76,"f":0.28,"t":0.07,"g":0.04,"s":5.25,"fa":1.37},
{"e":1.55,"h":1.07,"f":0.56,"t":0.47,"g":0.29,"s":6.57,"fa":1.14},{"e":1.09,"h":0.84,"f":0.53,"t":0.07,"g":0.27,"s":6.45,"fa":1.32},
{"e":1.36,"h":0.93,"f":0.63,"t":0.20,"g":0.27,"s":6.95,"fa":1.42},{"e":1.14,"h":0.89,"f":0.43,"t":0.05,"g":0.35,"s":6.65,"fa":1.24},
{"e":1.84,"h":0.76,"f":0.66,"t":0.50,"g":0.31,"s":6.37,"fa":1.14},{"e":1.31,"h":0.99,"f":0.53,"t":0.19,"g":0.14,"s":6.48,"fa":1.38},
{"e":1.08,"h":0.83,"f":0.47,"t":0.06,"g":0.09,"s":6.51,"fa":1.37},{"e":1.21,"h":0.88,"f":0.44,"t":0.03,"g":0.13,"s":6.61,"fa":1.33},
{"e":1.09,"h":0.85,"f":0.62,"t":0.22,"g":0.15,"s":6.45,"fa":1.33},{"e":0.95,"h":0.73,"f":0.52,"t":0.05,"g":0.20,"s":6.36,"fa":1.36},
{"e":1.00,"h":0.78,"f":0.58,"t":0.03,"g":0.56,"s":6.42,"fa":1.39},{"e":1.42,"h":0.76,"f":0.29,"t":0.31,"g":0.17,"s":6.34,"fa":1.20},
{"e":1.26,"h":1.00,"f":0.48,"t":0.05,"g":0.16,"s":6.40,"fa":1.44},{"e":1.24,"h":0.93,"f":0.58,"t":0.12,"g":0.54,"s":6.53,"fa":1.42},
{"e":1.32,"h":0.92,"f":0.42,"t":0.06,"g":0.24,"s":6.38,"fa":1.20},{"e":1.58,"h":0.77,"f":0.54,"t":0.14,"g":0.18,"s":6.17,"fa":1.29},
{"e":1.02,"h":0.65,"f":0.62,"t":0.05,"g":0.15,"s":6.27,"fa":1.10},{"e":1.24,"h":0.65,"f":0.53,"t":0.00,"g":0.34,"s":6.17,"fa":1.30},
{"e":0.79,"h":0.73,"f":0.47,"t":0.10,"g":0.04,"s":6.07,"fa":1.15},{"e":0.77,"h":0.69,"f":0.56,"t":0.06,"g":0.29,"s":6.32,"fa":1.25},
{"e":0.67,"h":0.70,"f":0.68,"t":0.29,"g":0.42,"s":5.97,"fa":1.46},{"e":1.19,"h":0.82,"f":0.29,"t":0.00,"g":0.14,"s":6.10,"fa":1.32},
{"e":1.30,"h":1.04,"f":0.52,"t":0.12,"g":0.08,"s":5.92,"fa":1.37},{"e":1.27,"h":1.01,"f":0.32,"t":0.06,"g":0.21,"s":5.84,"fa":1.08},
{"e":0.89,"h":0.83,"f":0.50,"t":0.16,"g":0.10,"s":6.01,"fa":1.12},{"e":1.35,"h":0.78,"f":0.43,"t":0.29,"g":0.19,"s":6.09,"fa":1.33},
{"e":1.28,"h":0.99,"f":0.28,"t":0.01,"g":0.15,"s":5.96,"fa":1.31},{"e":0.71,"h":0.57,"f":0.56,"t":0.07,"g":0.23,"s":5.82,"fa":1.10},
{"e":0.62,"h":0.66,"f":0.34,"t":0.00,"g":0.19,"s":5.84,"fa":1.14},{"e":0.79,"h":0.70,"f":0.52,"t":0.07,"g":0.36,"s":5.51,"fa":1.42},
{"e":1.15,"h":0.68,"f":0.54,"t":0.06,"g":0.10,"s":5.92,"fa":1.25},{"e":1.21,"h":0.91,"f":0.58,"t":0.01,"g":0.27,"s":5.77,"fa":1.39},
{"e":1.18,"h":0.77,"f":0.24,"t":0.00,"g":0.01,"s":5.90,"fa":1.37},{"e":0.62,"h":0.79,"f":0.58,"t":0.17,"g":0.35,"s":6.07,"fa":1.26},
{"e":0.94,"h":0.77,"f":0.53,"t":0.01,"g":0.07,"s":5.72,"fa":1.14},{"e":1.06,"h":0.74,"f":0.28,"t":0.16,"g":0.16,"s":5.57,"fa":1.36},
{"e":1.16,"h":0.83,"f":0.55,"t":0.02,"g":0.14,"s":5.84,"fa":1.37},{"e":1.16,"h":0.77,"f":0.53,"t":0.09,"g":0.36,"s":6.08,"fa":1.20},
{"e":1.11,"h":0.83,"f":0.27,"t":0.00,"g":0.03,"s":5.49,"fa":0.92},{"e":1.16,"h":0.75,"f":0.44,"t":0.12,"g":0.10,"s":5.62,"fa":1.20},
{"e":1.16,"h":0.71,"f":0.39,"t":0.01,"g":0.07,"s":5.86,"fa":1.36},{"e":0.85,"h":0.73,"f":0.48,"t":0.00,"g":0.15,"s":5.81,"fa":1.27},
{"e":1.23,"h":0.99,"f":0.50,"t":0.16,"g":0.24,"s":5.81,"fa":1.16},{"e":1.24,"h":0.96,"f":0.39,"t":0.04,"g":0.32,"s":5.62,"fa":1.01},
{"e":0.97,"h":0.65,"f":0.26,"t":0.15,"g":0.05,"s":5.87,"fa":1.20},{"e":0.83,"h":0.67,"f":0.22,"t":0.00,"g":0.30,"s":5.40,"fa":0.93},
{"e":0.99,"h":0.57,"f":0.53,"t":0.31,"g":0.15,"s":5.66,"fa":1.45},{"e":1.04,"h":0.75,"f":0.54,"t":0.06,"g":0.39,"s":5.63,"fa":1.12},
{"e":1.42,"h":1.06,"f":0.61,"t":0.36,"g":0.38,"s":5.46,"fa":0.96},{"e":1.18,"h":0.81,"f":0.43,"t":0.13,"g":0.10,"s":5.61,"fa":1.35},
{"e":0.86,"h":0.64,"f":0.48,"t":0.00,"g":0.50,"s":5.31,"fa":1.21},{"e":0.66,"h":0.78,"f":0.58,"t":0.08,"g":0.18,"s":5.08,"fa":1.03},
{"e":1.09,"h":0.77,"f":0.34,"t":0.12,"g":0.06,"s":5.50,"fa":1.07},{"e":0.50,"h":0.68,"f":0.41,"t":0.02,"g":0.32,"s":5.19,"fa":1.27},
{"e":0.69,"h":0.19,"f":0.36,"t":0.03,"g":0.19,"s":5.07,"fa":1.02},{"e":0.80,"h":0.61,"f":0.51,"t":0.14,"g":0.50,"s":5.13,"fa":1.22},
{"e":1.05,"h":0.68,"f":0.39,"t":0.16,"g":0.00,"s":5.23,"fa":1.05},{"e":0.63,"h":0.55,"f":0.10,"t":0.08,"g":0.36,"s":5.27,"fa":0.54},
{"e":0.94,"h":0.74,"f":0.55,"t":0.07,"g":0.09,"s":5.30,"fa":1.15},{"e":1.00,"h":0.75,"f":0.24,"t":0.03,"g":0.19,"s":5.24,"fa":1.23},
{"e":0.92,"h":0.86,"f":0.54,"t":0.01,"g":0.06,"s":5.27,"fa":1.07},{"e":0.50,"h":0.34,"f":0.47,"t":0.10,"g":0.22,"s":4.80,"fa":1.04},
{"e":1.07,"h":0.81,"f":0.37,"t":0.00,"g":0.12,"s":5.70,"fa":1.01},{"e":0.95,"h":0.78,"f":0.18,"t":0.01,"g":0.21,"s":5.31,"fa":1.13},
{"e":1.19,"h":0.92,"f":0.53,"t":0.00,"g":0.09,"s":5.20,"fa":1.26},{"e":1.14,"h":0.76,"f":0.28,"t":0.05,"g":0.15,"s":5.63,"fa":1.22},
{"e":0.73,"h":0.65,"f":0.64,"t":0.11,"g":0.22,"s":5.35,"fa":1.16},{"e":0.77,"h":0.64,"f":0.39,"t":0.07,"g":0.09,"s":5.16,"fa":0.76},
{"e":0.95,"h":0.78,"f":0.36,"t":0.03,"g":0.20,"s":5.23,"fa":1.14},{"e":0.10,"h":0.11,"f":0.46,"t":0.12,"g":0.24,"s":4.55,"fa":0.94},
{"e":0.91,"h":0.85,"f":0.38,"t":0.04,"g":0.12,"s":4.64,"fa":0.92},{"e":0.86,"h":0.83,"f":0.07,"t":0.00,"g":0.27,"s":5.18,"fa":1.04},
{"e":0.40,"h":0.03,"f":0.52,"t":0.13,"g":0.01,"s":3.81,"fa":1.16},{"e":0.93,"h":0.71,"f":0.56,"t":0.13,"g":0.24,"s":5.23,"fa":1.30},
{"e":0.62,"h":0.47,"f":0.62,"t":0.22,"g":0.39,"s":4.88,"fa":0.86},{"e":0.85,"h":0.50,"f":0.35,"t":0.01,"g":0.28,"s":4.96,"fa":1.38},
{"e":0.74,"h":0.04,"f":0.33,"t":0.16,"g":0.04,"s":4.42,"fa":1.20},{"e":1.18,"h":0.92,"f":0.06,"t":0.00,"g":0.02,"s":5.23,"fa":1.05},
{"e":1.05,"h":0.83,"f":0.31,"t":0.02,"g":0.20,"s":5.23,"fa":0.92},{"e":1.15,"h":0.80,"f":0.30,"t":0.00,"g":0.15,"s":5.32,"fa":1.32},
{"e":0.62,"h":0.74,"f":0.51,"t":0.06,"g":0.19,"s":5.18,"fa":1.07},{"e":0.42,"h":0.61,"f":0.45,"t":0.13,"g":0.25,"s":5.04,"fa":0.97},
{"e":0.91,"h":0.77,"f":0.28,"t":0.04,"g":0.04,"s":4.81,"fa":0.72},{"e":0.62,"h":0.71,"f":0.34,"t":0.07,"g":0.14,"s":4.70,"fa":1.05},
{"e":0.42,"h":0.64,"f":0.43,"t":0.10,"g":0.15,"s":4.64,"fa":0.72},{"e":1.03,"h":0.74,"f":0.28,"t":0.04,"g":0.40,"s":4.71,"fa":0.66},
{"e":0.82,"h":0.71,"f":0.21,"t":0.02,"g":0.13,"s":4.10,"fa":1.32},{"e":1.01,"h":0.58,"f":0.23,"t":0.12,"g":0.20,"s":4.46,"fa":0.93},
{"e":0.95,"h":0.31,"f":0.35,"t":0.07,"g":0.06,"s":4.83,"fa":1.30},{"e":0.57,"h":0.34,"f":0.39,"t":0.02,"g":0.26,"s":4.28,"fa":1.05},
{"e":0.30,"h":0.29,"f":0.37,"t":0.06,"g":0.17,"s":3.88,"fa":1.15},{"e":0.10,"h":0.20,"f":0.42,"t":0.02,"g":0.26,"s":3.53,"fa":1.03},
{"e":0.67,"h":0.55,"f":0.42,"t":0.06,"g":0.24,"s":4.32,"fa":0.64},{"e":0.55,"h":0.41,"f":0.08,"t":0.13,"g":0.21,"s":4.14,"fa":1.13},
{"e":0.30,"h":0.43,"f":0.26,"t":0.15,"g":0.44,"s":3.80,"fa":0.87},{"e":0.05,"h":0.14,"f":0.29,"t":0.05,"g":0.20,"s":4.28,"fa":1.12},
{"e":0.39,"h":0.57,"f":0.40,"t":0.04,"g":0.29,"s":4.79,"fa":1.07},{"e":0.22,"h":0.48,"f":0.32,"t":0.13,"g":0.23,"s":4.46,"fa":0.72},
{"e":0.36,"h":0.04,"f":0.43,"t":0.06,"g":0.19,"s":4.37,"fa":1.07},{"e":0.48,"h":0.45,"f":0.03,"t":0.10,"g":0.16,"s":4.29,"fa":1.12},
{"e":0.39,"h":0.45,"f":0.45,"t":0.04,"g":0.35,"s":4.55,"fa":1.11},{"e":0.80,"h":0.77,"f":0.22,"t":0.02,"g":0.10,"s":4.38,"fa":0.90},
{"e":1.02,"h":0.20,"f":0.48,"t":0.10,"g":0.08,"s":3.77,"fa":1.22},{"e":0.30,"h":0.52,"f":0.46,"t":0.17,"g":0.81,"s":4.55,"fa":0.83},
{"e":0.77,"h":0.77,"f":0.38,"t":0.36,"g":0.07,"s":4.29,"fa":0.51},{"e":0.05,"h":0.26,"f":0.45,"t":0.05,"g":0.31,"s":3.97,"fa":0.53},
{"e":0.87,"h":0.75,"f":0.52,"t":0.07,"g":0.42,"s":4.44,"fa":1.13},{"e":0.45,"h":0.28,"f":0.47,"t":0.04,"g":0.23,"s":4.70,"fa":1.00},
{"e":1.04,"h":0.81,"f":0.33,"t":0.00,"g":0.10,"s":4.71,"fa":1.22},{"e":0.91,"h":0.66,"f":0.16,"t":0.09,"g":0.14,"s":4.36,"fa":0.87},
{"e":0.58,"h":0.44,"f":0.38,"t":0.06,"g":0.07,"s":3.59,"fa":0.80},{"e":0.79,"h":0.14,"f":0.02,"t":0.05,"g":0.10,"s":3.87,"fa":0.99},
{"e":0.29,"h":0.25,"f":0.37,"t":0.10,"g":0.20,"s":4.19,"fa":1.16},{"e":0.71,"h":0.35,"f":0.44,"t":0.09,"g":0.10,"s":4.29,"fa":0.78},
{"e":0.26,"h":0.40,"f":0.21,"t":0.18,"g":0.19,"s":3.97,"fa":0.91},{"e":0.24,"h":0.32,"f":0.38,"t":0.05,"g":0.31,"s":4.08,"fa":1.25},
{"e":0.39,"h":0.48,"f":0.35,"t":0.08,"g":0.18,"s":4.54,"fa":1.10},{"e":1.09,"h":0.48,"f":0.38,"t":0.09,"g":0.04,"s":4.47,"fa":1.03},
{"e":0.10,"h":0.34,"f":0.47,"t":0.15,"g":0.21,"s":4.03,"fa":0.89},{"e":0.49,"h":0.65,"f":0.64,"t":0.05,"g":0.42,"s":4.17,"fa":0.74},
{"e":0.32,"h":0.42,"f":0.47,"t":0.10,"g":0.28,"s":3.35,"fa":1.11},{"e":0.24,"h":0.51,"f":0.17,"t":0.03,"g":0.22,"s":3.70,"fa":0.79},
{"e":0.06,"h":0.04,"f":0.39,"t":0.06,"g":0.22,"s":3.08,"fa":0.00},{"e":0.37,"h":0.19,"f":0.22,"t":0.03,"g":0.20,"s":4.30,"fa":0.88},
{"e":0.20,"h":0.31,"f":0.39,"t":0.10,"g":0.21,"s":3.51,"fa":0.59},{"e":0.50,"h":0.19,"f":0.45,"t":0.15,"g":0.22,"s":4.18,"fa":0.89},
{"e":0.29,"h":0.31,"f":0.42,"t":0.11,"g":0.20,"s":4.42,"fa":0.97},{"e":0.35,"h":0.34,"f":0.11,"t":0.05,"g":0.31,"s":3.79,"fa":0.42},
{"e":0.30,"h":0.47,"f":0.61,"t":0.46,"g":0.21,"s":3.47,"fa":0.85},{"e":0.33,"h":0.36,"f":0.46,"t":0.06,"g":0.20,"s":3.94,"fa":0.12},
{"e":0.69,"h":0.76,"f":0.14,"t":0.17,"g":0.45,"s":3.07,"fa":0.40},{"e":0.03,"h":0.26,"f":0.10,"t":0.08,"g":0.22,"s":2.91,"fa":0.25},
{"e":0.24,"h":0.32,"f":0.38,"t":0.09,"g":0.19,"s":3.30,"fa":0.00},{"e":0.02,"h":0.12,"f":0.55,"t":0.29,"g":0.26,"s":5.15,"fa":0.65},
{"e":0.36,"h":0.13,"f":0.06,"t":0.08,"g":0.23,"s":3.59,"fa":0.70}
],
"bins":[
{"v":"e","x0":0,"x1":0.118,"n":23},{"v":"e","x0":0.118,"x1":0.236,"n":17},{"v":"e","x0":0.236,"x1":0.354,"n":51},{"v":"e","x0":0.354,"x1":0.472,"n":45},{"v":"e","x0":0.472,"x1":0.59,"n":45},{"v":"e","x0":0.59,"x1":0.708,"n":52},{"v":"e","x0":0.708,"x1":0.826,"n":56},{"v":"e","x0":0.826,"x1":0.944,"n":72},{"v":"e","x0":0.944,"x1":1.062,"n":97},{"v":"e","x0":1.062,"x1":1.18,"n":85},{"v":"e","x0":1.18,"x1":1.298,"n":78},{"v":"e","x0":1.298,"x1":1.416,"n":87},{"v":"e","x0":1.416,"x1":1.534,"n":48},{"v":"e","x0":1.534,"x1":1.652,"n":18},{"v":"e","x0":1.652,"x1":1.77,"n":7},{"v":"e","x0":1.77,"x1":1.888,"n":1},
{"v":"h","x0":0,"x1":0.0671,"n":18},{"v":"h","x0":0.0671,"x1":0.1342,"n":13},{"v":"h","x0":0.1342,"x1":0.2013,"n":26},{"v":"h","x0":0.2013,"x1":0.2684,"n":33},{"v":"h","x0":0.2684,"x1":0.3355,"n":42},{"v":"h","x0":0.3355,"x1":0.4026,"n":41},{"v":"h","x0":0.4026,"x1":0.4697,"n":40},{"v":"h","x0":0.4697,"x1":0.5368,"n":49},{"v":"h","x0":0.5368,"x1":0.6039,"n":74},{"v":"h","x0":0.6039,"x1":0.671,"n":88},{"v":"h","x0":0.671,"x1":0.7381,"n":83},{"v":"h","x0":0.7381,"x1":0.8052,"n":88},{"v":"h","x0":0.8052,"x1":0.8723,"n":79},{"v":"h","x0":0.8723,"x1":0.9394,"n":51},{"v":"h","x0":0.9394,"x1":1.0065,"n":29},{"v":"h","x0":1.0065,"x1":1.0736,"n":24},{"v":"h","x0":1.0736,"x1":1.1407,"n":3},
{"v":"f","x0":0,"x1":0.0418,"n":10},{"v":"f","x0":0.0418,"x1":0.0836,"n":9},{"v":"f","x0":0.0836,"x1":0.1254,"n":11},{"v":"f","x0":0.1254,"x1":0.1672,"n":18},{"v":"f","x0":0.1672,"x1":0.209,"n":25},{"v":"f","x0":0.209,"x1":0.2508,"n":36},{"v":"f","x0":0.2508,"x1":0.2926,"n":43},{"v":"f","x0":0.2926,"x1":0.3344,"n":49},{"v":"f","x0":0.3344,"x1":0.3762,"n":61},{"v":"f","x0":0.3762,"x1":0.418,"n":81},{"v":"f","x0":0.418,"x1":0.4598,"n":88},{"v":"f","x0":0.4598,"x1":0.5016,"n":80},{"v":"f","x0":0.5016,"x1":0.5434,"n":76},{"v":"f","x0":0.5434,"x1":0.5852,"n":81},{"v":"f","x0":0.5852,"x1":0.627,"n":64},{"v":"f","x0":0.627,"x1":0.6688,"n":37},{"v":"f","x0":0.6688,"x1":0.7106,"n":9},
{"v":"t","x0":0,"x1":0.0203,"n":48},{"v":"t","x0":0.0203,"x1":0.0406,"n":84},{"v":"t","x0":0.0406,"x1":0.0609,"n":101},{"v":"t","x0":0.0609,"x1":0.0812,"n":101},{"v":"t","x0":0.0812,"x1":0.1015,"n":97},{"v":"t","x0":0.1015,"x1":0.1218,"n":64},{"v":"t","x0":0.1218,"x1":0.1421,"n":63},{"v":"t","x0":0.1421,"x1":0.1624,"n":42},{"v":"t","x0":0.1624,"x1":0.1827,"n":42},{"v":"t","x0":0.1827,"x1":0.203,"n":16},{"v":"t","x0":0.203,"x1":0.2233,"n":13},{"v":"t","x0":0.2233,"x1":0.2436,"n":6},{"v":"t","x0":0.2436,"x1":0.2639,"n":11},{"v":"t","x0":0.2639,"x1":0.2842,"n":13},{"v":"t","x0":0.2842,"x1":0.3045,"n":14},{"v":"t","x0":0.3045,"x1":0.3248,"n":15},{"v":"t","x0":0.3248,"x1":0.3451,"n":6},{"v":"t","x0":0.3451,"x1":0.3654,"n":8},{"v":"t","x0":0.3654,"x1":0.3857,"n":10},{"v":"t","x0":0.3857,"x1":0.406,"n":6},{"v":"t","x0":0.406,"x1":0.4263,"n":7},{"v":"t","x0":0.4263,"x1":0.4466,"n":6},{"v":"t","x0":0.4466,"x1":0.4669,"n":4},{"v":"t","x0":0.4669,"x1":0.4872,"n":4},{"v":"t","x0":0.4872,"x1":0.5075,"n":2},{"v":"t","x0":0.5075,"x1":0.5278,"n":1},{"v":"t","x0":0.5278,"x1":0.5481,"n":2},
{"v":"g","x0":0,"x1":0.0271,"n":12},{"v":"g","x0":0.0271,"x1":0.0542,"n":33},{"v":"g","x0":0.0542,"x1":0.0813,"n":55},{"v":"g","x0":0.0813,"x1":0.1084,"n":63},{"v":"g","x0":0.1084,"x1":0.1355,"n":75},{"v":"g","x0":0.1355,"x1":0.1626,"n":69},{"v":"g","x0":0.1626,"x1":0.1897,"n":81},{"v":"g","x0":0.1897,"x1":0.2168,"n":85},{"v":"g","x0":0.2168,"x1":0.2439,"n":73},{"v":"g","x0":0.2439,"x1":0.271,"n":67},{"v":"g","x0":0.271,"x1":0.2981,"n":38},{"v":"g","x0":0.2981,"x1":0.3252,"n":33},{"v":"g","x0":0.3252,"x1":0.3523,"n":21},{"v":"g","x0":0.3523,"x1":0.3794,"n":21},{"v":"g","x0":0.3794,"x1":0.4065,"n":11},{"v":"g","x0":0.4065,"x1":0.4336,"n":6},{"v":"g","x0":0.4336,"x1":0.4607,"n":9},{"v":"g","x0":0.4607,"x1":0.4878,"n":13},{"v":"g","x0":0.4878,"x1":0.5149,"n":4},{"v":"g","x0":0.5149,"x1":0.542,"n":1},{"v":"g","x0":0.542,"x1":0.5691,"n":4},{"v":"g","x0":0.5691,"x1":0.5962,"n":1},{"v":"g","x0":0.813,"x1":0.8401,"n":1},
{"v":"s","x0":2.54,"x1":2.851,"n":2},{"v":"s","x0":2.851,"x1":3.162,"n":7},{"v":"s","x0":3.162,"x1":3.473,"n":11},{"v":"s","x0":3.473,"x1":3.784,"n":40},{"v":"s","x0":3.784,"x1":4.095,"n":33},{"v":"s","x0":4.095,"x1":4.406,"n":61},{"v":"s","x0":4.406,"x1":4.717,"n":73},{"v":"s","x0":4.717,"x1":5.028,"n":64},{"v":"s","x0":5.028,"x1":5.339,"n":90},{"v":"s","x0":5.339,"x1":5.65,"n":62},{"v":"s","x0":5.65,"x1":5.961,"n":81},{"v":"s","x0":5.961,"x1":6.272,"n":71},{"v":"s","x0":6.272,"x1":6.583,"n":63},{"v":"s","x0":6.583,"x1":6.894,"n":31},{"v":"s","x0":6.894,"x1":7.205,"n":36},{"v":"s","x0":7.205,"x1":7.516,"n":43},{"v":"s","x0":7.516,"x1":7.827,"n":11},
{"v":"fa","x0":0,"x1":0.0913,"n":6},{"v":"fa","x0":0.0913,"x1":0.1826,"n":5},{"v":"fa","x0":0.1826,"x1":0.2739,"n":5},{"v":"fa","x0":0.2739,"x1":0.3652,"n":7},{"v":"fa","x0":0.3652,"x1":0.4565,"n":19},{"v":"fa","x0":0.4565,"x1":0.5478,"n":20},{"v":"fa","x0":0.5478,"x1":0.6391,"n":28},{"v":"fa","x0":0.6391,"x1":0.7304,"n":35},{"v":"fa","x0":0.7304,"x1":0.8217,"n":60},{"v":"fa","x0":0.8217,"x1":0.913,"n":69},{"v":"fa","x0":0.913,"x1":1.0043,"n":67},{"v":"fa","x0":1.0043,"x1":1.0956,"n":83},{"v":"fa","x0":1.0956,"x1":1.1869,"n":80},{"v":"fa","x0":1.1869,"x1":1.2782,"n":82},{"v":"fa","x0":1.2782,"x1":1.3695,"n":65},{"v":"fa","x0":1.3695,"x1":1.4608,"n":73},{"v":"fa","x0":1.4608,"x1":1.5521,"n":68},{"v":"fa","x0":1.5521,"x1":1.6434,"n":12}
]
},
"concat":[
{"width":219,"height":226,"data":{"name":"bins"},"transform":[{"filter":"datum.v==='e'"}],"mark":{"type":"rect","color":"#7A96C4","stroke":"#FFFFFF","strokeWidth":0.8},"encoding":{"x":{"field":"x0","type":"quantitative","scale":{"domain":[-0.094,1.981],"nice":false,"zero":false},"axis":{"labels":false,"title":null}},"x2":{"field":"x1"},"y":{"field":"n","type":"quantitative","scale":{"domain":[0,106],"nice":false},"axis":null},"y2":{"datum":0}}},
{"width":219,"height":226,"data":{"values":[]},"mark":"point","encoding":{}},
{"width":219,"height":226,"data":{"values":[]},"mark":"point","encoding":{}},
{"width":219,"height":226,"data":{"values":[]},"mark":"point","encoding":{}},
{"width":219,"height":226,"data":{"values":[]},"mark":"point","encoding":{}},
{"width":219,"height":226,"data":{"values":[]},"mark":"point","encoding":{}},
{"width":219,"height":226,"data":{"values":[]},"mark":"point","encoding":{}},

{"width":219,"height":226,"data":{"name":"pts"},"mark":"circle","encoding":{"x":{"field":"e","type":"quantitative","scale":{"domain":[-0.094,1.981],"nice":false,"zero":false},"axis":{"labels":false,"title":null}},"y":{"field":"h","type":"quantitative","scale":{"domain":[-0.057,1.198],"nice":false,"zero":false},"axis":{"values":[0,0.25,0.5,0.75,1],"format":".2f","title":"Health (Life Expectancy)"}}}},
{"width":219,"height":226,"data":{"name":"bins"},"transform":[{"filter":"datum.v==='h'"}],"mark":{"type":"rect","color":"#7A96C4","stroke":"#FFFFFF","strokeWidth":0.8},"encoding":{"x":{"field":"x0","type":"quantitative","scale":{"domain":[-0.057,1.198],"nice":false,"zero":false},"axis":{"labels":false,"title":null}},"x2":{"field":"x1"},"y":{"field":"n","type":"quantitative","scale":{"domain":[0,106],"nice":false},"axis":null},"y2":{"datum":0}}},
{"width":219,"height":226,"data":{"values":[]},"mark":"point","encoding":{}},
{"width":219,"height":226,"data":{"values":[]},"mark":"point","encoding":{}},
{"width":219,"height":226,"data":{"values":[]},"mark":"point","encoding":{}},
{"width":219,"height":226,"data":{"values":[]},"mark":"point","encoding":{}},
{"width":219,"height":226,"data":{"values":[]},"mark":"point","encoding":{}},

{"width":219,"height":226,"data":{"name":"pts"},"mark":"circle","encoding":{"x":{"field":"e","type":"quantitative","scale":{"domain":[-0.094,1.981],"nice":false,"zero":false},"axis":{"labels":false,"title":null}},"y":{"field":"f","type":"quantitative","scale":{"domain":[-0.036,0.747],"nice":false,"zero":false},"axis":{"values":[0,0.2,0.4,0.6],"format":".1f","title":"Freedom"}}}},
{"width":219,"height":226,"data":{"name":"pts"},"mark":"circle","encoding":{"x":{"field":"h","type":"quantitative","scale":{"domain":[-0.057,1.198],"nice":false,"zero":false},"axis":{"labels":false,"title":null}},"y":{"field":"f","type":"quantitative","scale":{"domain":[-0.036,0.747],"nice":false,"zero":false},"axis":{"labels":false,"title":null}}}},
{"width":219,"height":226,"data":{"name":"bins"},"transform":[{"filter":"datum.v==='f'"}],"mark":{"type":"rect","color":"#7A96C4","stroke":"#FFFFFF","strokeWidth":0.8},"encoding":{"x":{"field":"x0","type":"quantitative","scale":{"domain":[-0.036,0.747],"nice":false,"zero":false},"axis":{"labels":false,"title":null}},"x2":{"field":"x1"},"y":{"field":"n","type":"quantitative","scale":{"domain":[0,106],"nice":false},"axis":null},"y2":{"datum":0}}},
{"width":219,"height":226,"data":{"values":[]},"mark":"point","encoding":{}},
{"width":219,"height":226,"data":{"values":[]},"mark":"point","encoding":{}},
{"width":219,"height":226,"data":{"values":[]},"mark":"point","encoding":{}},
{"width":219,"height":226,"data":{"values":[]},"mark":"point","encoding":{}},

{"width":219,"height":226,"data":{"name":"pts"},"mark":"circle","encoding":{"x":{"field":"e","type":"quantitative","scale":{"domain":[-0.094,1.981],"nice":false,"zero":false},"axis":{"labels":false,"title":null}},"y":{"field":"t","type":"quantitative","scale":{"domain":[-0.027,0.576],"nice":false,"zero":false},"axis":{"values":[0,0.2,0.4],"format":".1f","title":"Trust (Government Corruption)"}}}},
{"width":219,"height":226,"data":{"name":"pts"},"mark":"circle","encoding":{"x":{"field":"h","type":"quantitative","scale":{"domain":[-0.057,1.198],"nice":false,"zero":false},"axis":{"labels":false,"title":null}},"y":{"field":"t","type":"quantitative","scale":{"domain":[-0.027,0.576],"nice":false,"zero":false},"axis":{"labels":false,"title":null}}}},
{"width":219,"height":226,"data":{"name":"pts"},"mark":"circle","encoding":{"x":{"field":"f","type":"quantitative","scale":{"domain":[-0.036,0.747],"nice":false,"zero":false},"axis":{"labels":false,"title":null}},"y":{"field":"t","type":"quantitative","scale":{"domain":[-0.027,0.576],"nice":false,"zero":false},"axis":{"labels":false,"title":null}}}},
{"width":219,"height":226,"data":{"name":"bins"},"transform":[{"filter":"datum.v==='t'"}],"mark":{"type":"rect","color":"#7A96C4","stroke":"#FFFFFF","strokeWidth":0.8},"encoding":{"x":{"field":"x0","type":"quantitative","scale":{"domain":[-0.027,0.576],"nice":false,"zero":false},"axis":{"labels":false,"title":null}},"x2":{"field":"x1"},"y":{"field":"n","type":"quantitative","scale":{"domain":[0,106],"nice":false},"axis":null},"y2":{"datum":0}}},
{"width":219,"height":226,"data":{"values":[]},"mark":"point","encoding":{}},
{"width":219,"height":226,"data":{"values":[]},"mark":"point","encoding":{}},
{"width":219,"height":226,"data":{"values":[]},"mark":"point","encoding":{}},

{"width":219,"height":226,"data":{"name":"pts"},"mark":"circle","encoding":{"x":{"field":"e","type":"quantitative","scale":{"domain":[-0.094,1.981],"nice":false,"zero":false},"axis":{"labels":false,"title":null}},"y":{"field":"g","type":"quantitative","scale":{"domain":[-0.042,0.882],"nice":false,"zero":false},"axis":{"values":[0,0.2,0.4,0.6,0.8],"format":".1f","title":"Generosity"}}}},
{"width":219,"height":226,"data":{"name":"pts"},"mark":"circle","encoding":{"x":{"field":"h","type":"quantitative","scale":{"domain":[-0.057,1.198],"nice":false,"zero":false},"axis":{"labels":false,"title":null}},"y":{"field":"g","type":"quantitative","scale":{"domain":[-0.042,0.882],"nice":false,"zero":false},"axis":{"labels":false,"title":null}}}},
{"width":219,"height":226,"data":{"name":"pts"},"mark":"circle","encoding":{"x":{"field":"f","type":"quantitative","scale":{"domain":[-0.036,0.747],"nice":false,"zero":false},"axis":{"labels":false,"title":null}},"y":{"field":"g","type":"quantitative","scale":{"domain":[-0.042,0.882],"nice":false,"zero":false},"axis":{"labels":false,"title":null}}}},
{"width":219,"height":226,"data":{"name":"pts"},"mark":"circle","encoding":{"x":{"field":"t","type":"quantitative","scale":{"domain":[-0.027,0.576],"nice":false,"zero":false},"axis":{"labels":false,"title":null}},"y":{"field":"g","type":"quantitative","scale":{"domain":[-0.042,0.882],"nice":false,"zero":false},"axis":{"labels":false,"title":null}}}},
{"width":219,"height":226,"data":{"name":"bins"},"transform":[{"filter":"datum.v==='g'"}],"mark":{"type":"rect","color":"#7A96C4","stroke":"#FFFFFF","strokeWidth":0.8},"encoding":{"x":{"field":"x0","type":"quantitative","scale":{"domain":[-0.042,0.882],"nice":false,"zero":false},"axis":{"labels":false,"title":null}},"x2":{"field":"x1"},"y":{"field":"n","type":"quantitative","scale":{"domain":[0,106],"nice":false},"axis":null},"y2":{"datum":0}}},
{"width":219,"height":226,"data":{"values":[]},"mark":"point","encoding":{}},
{"width":219,"height":226,"data":{"values":[]},"mark":"point","encoding":{}},

{"width":219,"height":226,"data":{"name":"pts"},"mark":"circle","encoding":{"x":{"field":"e","type":"quantitative","scale":{"domain":[-0.094,1.981],"nice":false,"zero":false},"axis":{"labels":false,"title":null}},"y":{"field":"s","type":"quantitative","scale":{"domain":[2.26,8.08],"nice":false,"zero":false},"axis":{"values":[3,4,5,6,7,8],"format":"d","title":"Happiness Score"}}}},
{"width":219,"height":226,"data":{"name":"pts"},"mark":"circle","encoding":{"x":{"field":"h","type":"quantitative","scale":{"domain":[-0.057,1.198],"nice":false,"zero":false},"axis":{"labels":false,"title":null}},"y":{"field":"s","type":"quantitative","scale":{"domain":[2.26,8.08],"nice":false,"zero":false},"axis":{"labels":false,"title":null}}}},
{"width":219,"height":226,"data":{"name":"pts"},"mark":"circle","encoding":{"x":{"field":"f","type":"quantitative","scale":{"domain":[-0.036,0.747],"nice":false,"zero":false},"axis":{"labels":false,"title":null}},"y":{"field":"s","type":"quantitative","scale":{"domain":[2.26,8.08],"nice":false,"zero":false},"axis":{"labels":false,"title":null}}}},
{"width":219,"height":226,"data":{"name":"pts"},"mark":"circle","encoding":{"x":{"field":"t","type":"quantitative","scale":{"domain":[-0.027,0.576],"nice":false,"zero":false},"axis":{"labels":false,"title":null}},"y":{"field":"s","type":"quantitative","scale":{"domain":[2.26,8.08],"nice":false,"zero":false},"axis":{"labels":false,"title":null}}}},
{"width":219,"height":226,"data":{"name":"pts"},"mark":"circle","encoding":{"x":{"field":"g","type":"quantitative","scale":{"domain":[-0.042,0.882],"nice":false,"zero":false},"axis":{"labels":false,"title":null}},"y":{"field":"s","type":"quantitative","scale":{"domain":[2.26,8.08],"nice":false,"zero":false},"axis":{"labels":false,"title":null}}}},
{"width":219,"height":226,"data":{"name":"bins"},"transform":[{"filter":"datum.v==='s'"}],"mark":{"type":"rect","color":"#7A96C4","stroke":"#FFFFFF","strokeWidth":0.8},"encoding":{"x":{"field":"x0","type":"quantitative","scale":{"domain":[2.26,8.08],"nice":false,"zero":false},"axis":{"labels":false,"title":null}},"x2":{"field":"x1"},"y":{"field":"n","type":"quantitative","scale":{"domain":[0,106],"nice":false},"axis":null},"y2":{"datum":0}}},
{"width":219,"height":226,"data":{"values":[]},"mark":"point","encoding":{}},

{"width":219,"height":226,"data":{"name":"pts"},"mark":"circle","encoding":{"x":{"field":"e","type":"quantitative","scale":{"domain":[-0.094,1.981],"nice":false,"zero":false},"axis":{"values":[0,1],"format":".0f","title":"Economy (GDP per Capita)"}},"y":{"field":"fa","type":"quantitative","scale":{"domain":[-0.082,1.726],"nice":false,"zero":false},"axis":{"values":[0,0.5,1,1.5],"format":".1f","title":"Family (Social Support)"}}}},
{"width":219,"height":226,"data":{"name":"pts"},"mark":"circle","encoding":{"x":{"field":"h","type":"quantitative","scale":{"domain":[-0.057,1.198],"nice":false,"zero":false},"axis":{"values":[0,0.5,1],"format":".1f","title":"Health (Life Expectancy)"}},"y":{"field":"fa","type":"quantitative","scale":{"domain":[-0.082,1.726],"nice":false,"zero":false},"axis":{"labels":false,"title":null}}}},
{"width":219,"height":226,"data":{"name":"pts"},"mark":"circle","encoding":{"x":{"field":"f","type":"quantitative","scale":{"domain":[-0.036,0.747],"nice":false,"zero":false},"axis":{"values":[0,0.2,0.4,0.6],"format":".1f","title":"Freedom"}},"y":{"field":"fa","type":"quantitative","scale":{"domain":[-0.082,1.726],"nice":false,"zero":false},"axis":{"labels":false,"title":null}}}},
{"width":219,"height":226,"data":{"name":"pts"},"mark":"circle","encoding":{"x":{"field":"t","type":"quantitative","scale":{"domain":[-0.027,0.576],"nice":false,"zero":false},"axis":{"values":[0,0.2,0.4],"format":".1f","title":"Trust (Government Corruption)"}},"y":{"field":"fa","type":"quantitative","scale":{"domain":[-0.082,1.726],"nice":false,"zero":false},"axis":{"labels":false,"title":null}}}},
{"width":219,"height":226,"data":{"name":"pts"},"mark":"circle","encoding":{"x":{"field":"g","type":"quantitative","scale":{"domain":[-0.042,0.882],"nice":false,"zero":false},"axis":{"values":[0,0.25,0.5,0.75],"format":".2f","title":"Generosity"}},"y":{"field":"fa","type":"quantitative","scale":{"domain":[-0.082,1.726],"nice":false,"zero":false},"axis":{"labels":false,"title":null}}}},
{"width":219,"height":226,"data":{"name":"pts"},"mark":"circle","encoding":{"x":{"field":"s","type":"quantitative","scale":{"domain":[2.26,8.08],"nice":false,"zero":false},"axis":{"values":[4,6,8],"format":"d","title":"Happiness Score"}},"y":{"field":"fa","type":"quantitative","scale":{"domain":[-0.082,1.726],"nice":false,"zero":false},"axis":{"labels":false,"title":null}}}},
{"width":219,"height":226,"data":{"name":"bins"},"transform":[{"filter":"datum.v==='fa'"}],"mark":{"type":"rect","color":"#7A96C4","stroke":"#FFFFFF","strokeWidth":0.8},"encoding":{"x":{"field":"x0","type":"quantitative","scale":{"domain":[-0.082,1.726],"nice":false,"zero":false},"axis":{"values":[0,0.5,1,1.5],"format":".1f","title":"Family (Social Support)"}},"x2":{"field":"x1"},"y":{"field":"n","type":"quantitative","scale":{"domain":[0,106],"nice":false},"axis":null},"y2":{"datum":0}}}
]
}
